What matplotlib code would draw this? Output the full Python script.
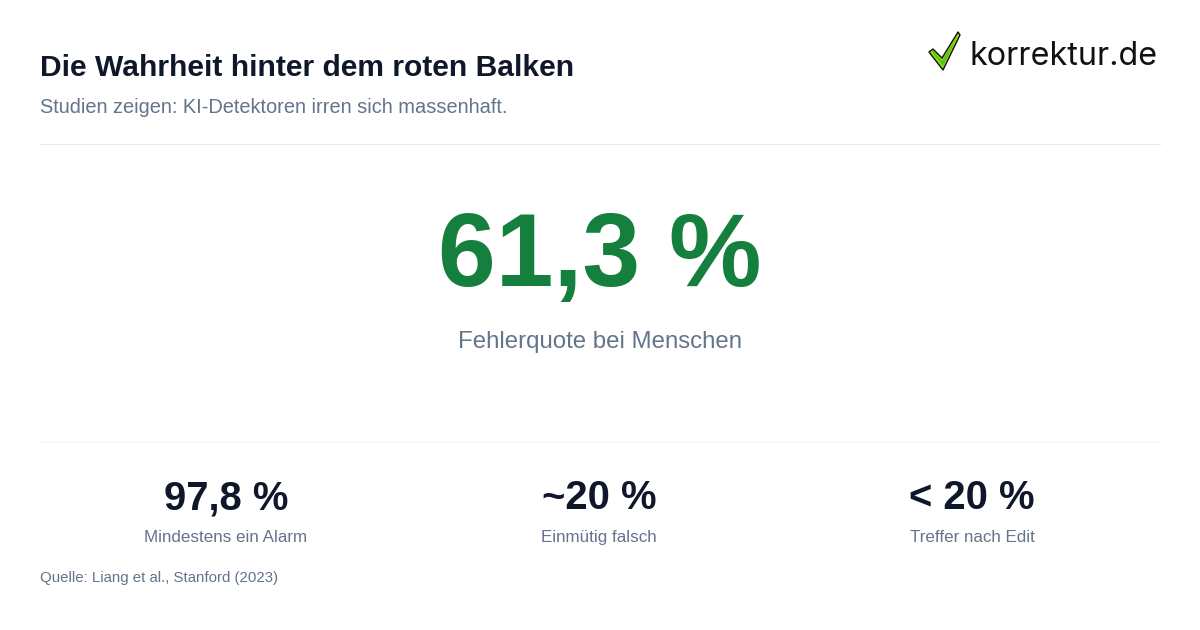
"""KPI card: error rate of AI detectors."""
import matplotlib
matplotlib.use("Agg")
import matplotlib.pyplot as plt
from matplotlib.patches import Polygon

plt.rcParams["font.family"] = ["Liberation Sans", "DejaVu Sans"]

W, H = 1200, 630
DARK = "#0f172a"
GREY = "#64748b"
GREEN = "#15803d"

TITLE = "Die Wahrheit hinter dem roten Balken"
SUBTITLE = "Studien zeigen: KI-Detektoren irren sich massenhaft."
MAIN_VALUE = "61,3 %"
MAIN_LABEL = "Fehlerquote bei Menschen"
KPI_VALUES = ["97,8 %", "~20 %", "< 20 %"]
KPI_LABELS = ["Mindestens ein Alarm", "Einmütig falsch", "Treffer nach Edit"]
SOURCE = "Quelle: Liang et al., Stanford (2023)"
LOGO = "korrektur.de"


def px(size):
    # css pixels to points at dpi 100
    return size * 0.72


fig = plt.figure(figsize=(W / 100, H / 100), dpi=100, facecolor="white")
ax = fig.add_axes([0, 0, 1, 1])
ax.set_xlim(0, W)
ax.set_ylim(H, 0)
ax.axis("off")

ax.text(40, 76, TITLE, fontsize=px(30), fontweight="bold", color=DARK, va="baseline")
ax.text(40, 113, SUBTITLE, fontsize=px(20), color=GREY, va="baseline")
ax.plot([40, 1160], [144, 144], color="#e2e8f0", lw=0.72)

ax.text(600, 286, MAIN_VALUE, fontsize=px(104), fontweight="bold", color=GREEN, ha="center", va="baseline")
ax.text(600, 348, MAIN_LABEL, fontsize=px(24), color=GREY, ha="center", va="baseline")

ax.plot([40, 1160], [442, 442], color="#f1f5f9", lw=0.72)
for x, val, lab in zip([226, 599, 972], KPI_VALUES, KPI_LABELS):
    ax.text(x, 509, val, fontsize=px(40), fontweight="bold", color=DARK, ha="center", va="baseline")
    ax.text(x, 542, lab, fontsize=px(17), color=GREY, ha="center", va="baseline")

ax.text(40, 582, SOURCE, fontsize=px(15), color=GREY, va="baseline")

# logo
check = [(929, 52), (933, 49), (942, 58), (958, 32), (960, 35), (943, 70)]
inner = [(932, 52), (933, 51), (942, 61), (957, 37), (943, 66)]
ax.add_patch(Polygon(check, closed=True, facecolor="#8fe01e", edgecolor="#111111", lw=1.0, joinstyle="round"))
ax.add_patch(Polygon(inner, closed=True, facecolor="#5fbf12", edgecolor="none"))
ax.text(970, 65, LOGO, fontsize=px(32.3), color="#111111", va="baseline", family=["Inter", "DejaVu Sans"])

fig.savefig("out.png", dpi=100, facecolor="white")
